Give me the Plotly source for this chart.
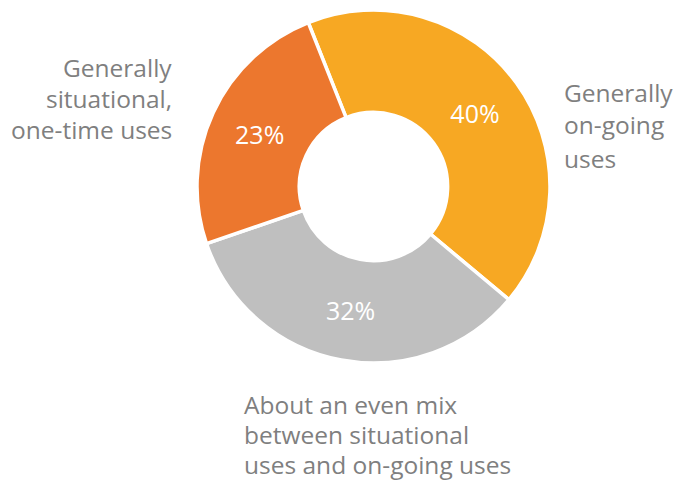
import plotly.graph_objects as go

categories = ["Generally on-going uses",
              "About an even mix between situational uses and on-going uses",
              "Generally situational, one-time uses"]
values = [40, 32, 23]
colors = ["#F7A823", "#BFBFBF", "#EC772E"]

label_lines = [
    ["Generally", "on-going", "uses"],
    ["About an even mix", "between situational", "uses and on-going uses"],
    ["Generally", "situational,", "one-time uses"],
]

W, H = 691, 487
cx, cy, r = 373.5, 186.5, 176.5

fig = go.Figure(go.Pie(
    labels=categories,
    values=values,
    hole=0.42,
    sort=False,
    direction="clockwise",
    rotation=-21.7,
    marker=dict(colors=colors, line=dict(color="white", width=3.5)),
    texttemplate="%{value}%",
    textposition="inside",
    insidetextorientation="horizontal",
    textfont=dict(color="white", size=25, family="Open Sans"),
    domain=dict(x=[(cx - r) / W, (cx + r) / W], y=[1 - (cy + r) / H, 1 - (cy - r) / H]),
    showlegend=False,
    hoverinfo="label+percent",
))

# label placement: (x anchor px, first line centre px, line spacing, align)
placements = [
    (562, 92, 33, "left"),
    (242, 404, 30, "left"),
    (174, 68, 30.5, "right"),
]
for lines, (x, y0, dy, al) in zip(label_lines, placements):
    for i, t in enumerate(lines):
        fig.add_annotation(
            x=x / W, y=1 - (y0 + i * dy) / H, xref="paper", yref="paper",
            text=t, showarrow=False, xanchor=al, yanchor="middle",
            font=dict(size=24.5, color="#7F7F7F", family="Open Sans"),
        )

fig.update_layout(
    width=W, height=H,
    margin=dict(l=0, r=0, t=0, b=0),
    paper_bgcolor="white", plot_bgcolor="white",
)
fig.write_html("out.html")
